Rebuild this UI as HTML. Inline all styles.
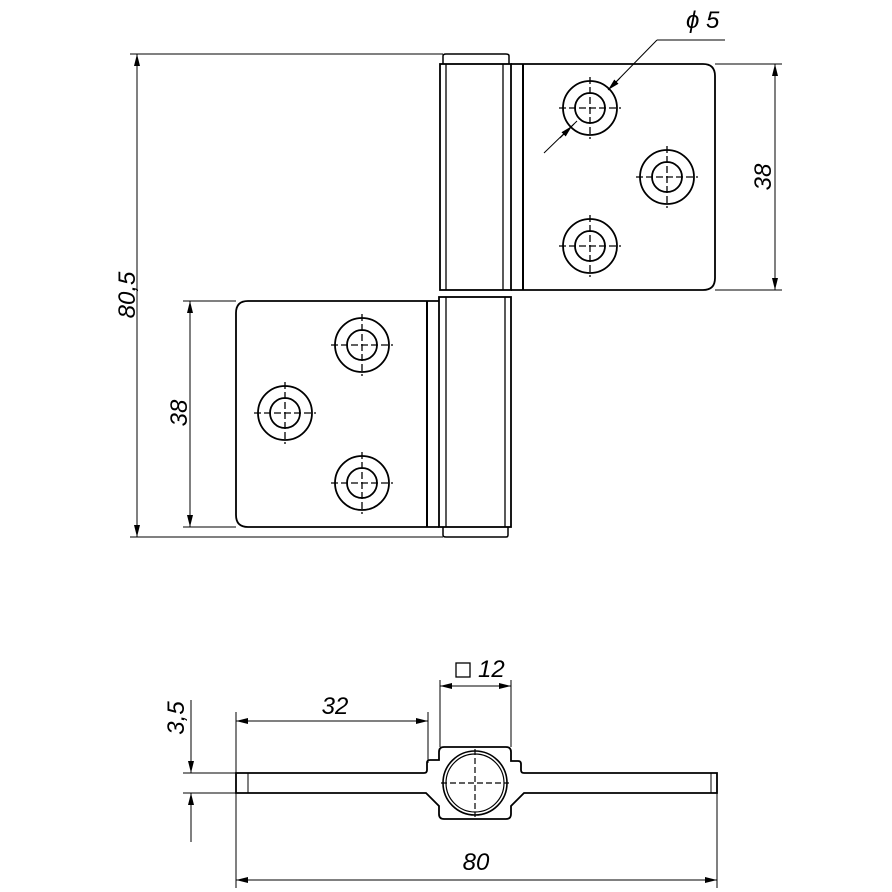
<!DOCTYPE html>
<html><head><style>
html,body{margin:0;padding:0;background:#fff;width:892px;height:892px;overflow:hidden}
text{font-family:"Liberation Sans",sans-serif;font-style:italic;font-size:24px;fill:#000}
</style></head><body>
<svg width="892" height="892" viewBox="0 0 892 892" xmlns="http://www.w3.org/2000/svg">
<defs>
<marker id="a" viewBox="0 0 12 6" refX="12" refY="3" markerWidth="12" markerHeight="6" orient="auto-start-reverse" markerUnits="userSpaceOnUse"><path d="M0,0 L12,3 L0,6 z" fill="#000"/></marker>
<g id="hole">
<circle r="27" fill="none" stroke="#000" stroke-width="1.8"/>
<circle r="15" fill="none" stroke="#000" stroke-width="1.8"/>
<path d="M-31,0H31M0,-31V31" stroke="#000" stroke-width="1.3" stroke-dasharray="7,3"/>
</g>
</defs>
<g stroke="#000" fill="none">
<path d="M443,64 V56 Q443,54 446,54 H506 Q509,54 509,56 V64" stroke-width="1.5"/>
<rect x="440" y="64" width="71" height="226" stroke-width="1.8"/>
<line x1="446" y1="64" x2="446" y2="290" stroke-width="1.3"/>
<line x1="503" y1="64" x2="503" y2="290" stroke-width="1.3"/>
<line x1="523" y1="64" x2="523" y2="290" stroke-width="2"/>
<path d="M511,64 H703 Q715,64 715,76 V278 Q715,290 703,290 H511" stroke-width="1.8"/>
<rect x="439" y="297" width="72" height="230" stroke-width="1.8"/>
<line x1="446" y1="297" x2="446" y2="527" stroke-width="1.3"/>
<line x1="505" y1="297" x2="505" y2="527" stroke-width="1.3"/>
<path d="M443,527 V535 Q443,537 446,537 H506 Q508,537 508,535 V527" stroke-width="1.5"/>
<line x1="427" y1="301" x2="427" y2="527" stroke-width="2"/>
<path d="M439,301 H248 Q236,301 236,313 V515 Q236,527 248,527 H439" stroke-width="1.8"/>
<g stroke-width="1">
<line x1="130" y1="54" x2="443" y2="54"/>
<line x1="130" y1="537" x2="443" y2="537"/>
<line x1="715" y1="64" x2="782" y2="64"/>
<line x1="715" y1="290" x2="782" y2="290"/>
<line x1="183" y1="301" x2="236" y2="301"/>
<line x1="183" y1="527" x2="236" y2="527"/>
<line x1="137" y1="54" x2="137" y2="537" marker-start="url(#a)" marker-end="url(#a)"/>
<line x1="190" y1="301" x2="190" y2="527" marker-start="url(#a)" marker-end="url(#a)"/>
<line x1="775" y1="64" x2="775" y2="290" marker-start="url(#a)" marker-end="url(#a)"/>
<line x1="544" y1="153" x2="577" y2="121"/>
<line x1="614" y1="84" x2="657" y2="40"/>
<line x1="657" y1="40" x2="725" y2="40"/>
<line x1="574" y1="124" x2="564" y2="134"/>
<line x1="560" y1="138" x2="572" y2="126" marker-end="url(#a)"/>
<line x1="620" y1="78" x2="608" y2="90" marker-end="url(#a)"/>
</g>
</g>
<use href="#hole" x="590" y="108"/>
<use href="#hole" x="667" y="177"/>
<use href="#hole" x="590" y="246"/>
<use href="#hole" x="362" y="345"/>
<use href="#hole" x="285" y="413"/>
<use href="#hole" x="362" y="483"/>
<text transform="translate(135,295) rotate(-90)" text-anchor="middle">80,5</text>
<text transform="translate(187,413) rotate(-90)" text-anchor="middle">38</text>
<text transform="translate(771,177) rotate(-90)" text-anchor="middle">38</text>
<text x="686" y="28">ϕ 5</text>

<g stroke="#000" fill="none">
<path d="M236,773 H424 Q427,773 427,770 V763 Q427,760 430,760 H439 V752 Q439,747 444,747 H506 Q511,747 511,752 V761 H518 Q521,761 521,764 V770 Q521,773 524,773 H717 V793 H524 L511,806 V814 Q511,819 506,819 H444 Q439,819 439,814 V806 L426,793 H236 Z" stroke-width="1.8"/>
<line x1="248" y1="773" x2="248" y2="793" stroke-width="1"/>
<line x1="711" y1="773" x2="711" y2="793" stroke-width="1"/>
<circle cx="475" cy="783" r="32" stroke-width="1.6"/>
<circle cx="475" cy="783" r="29" stroke-width="1.2"/>
<path d="M441,783H509M475,749V817" stroke-width="1.2" stroke-dasharray="6,3"/>
<g stroke-width="1">
<line x1="236" y1="712" x2="236" y2="888"/>
<line x1="717" y1="790" x2="717" y2="888"/>
<line x1="428" y1="712" x2="428" y2="763"/>
<line x1="440" y1="680" x2="440" y2="747"/>
<line x1="511" y1="680" x2="511" y2="747"/>
<line x1="183" y1="773" x2="236" y2="773"/>
<line x1="183" y1="793" x2="236" y2="793"/>
<line x1="236" y1="721" x2="428" y2="721" marker-start="url(#a)" marker-end="url(#a)"/>
<line x1="440" y1="686" x2="511" y2="686" marker-start="url(#a)" marker-end="url(#a)"/>
<line x1="236" y1="880" x2="717" y2="880" marker-start="url(#a)" marker-end="url(#a)"/>
<line x1="191" y1="700" x2="191" y2="773" marker-end="url(#a)"/>
<line x1="191" y1="842" x2="191" y2="793" marker-end="url(#a)"/>
</g>
<rect x="456" y="663" width="14" height="14" stroke-width="1.3"/>
</g>
<text x="335" y="714" text-anchor="middle">32</text>
<text x="478" y="677">12</text>
<text x="476" y="870" text-anchor="middle">80</text>
<text transform="translate(184,718) rotate(-90)" text-anchor="middle">3,5</text>
</svg>
</body></html>
